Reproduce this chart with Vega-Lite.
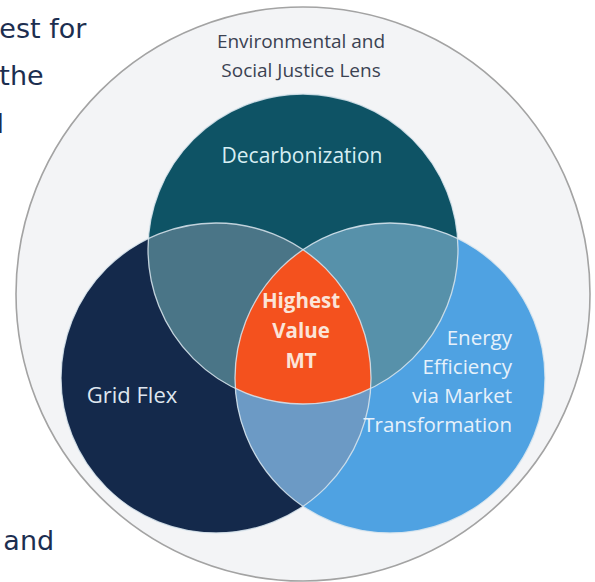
{
  "$schema": "https://vega.github.io/schema/vega-lite/v6.json",
  "width": 595,
  "height": 582,
  "autosize": {"type": "fit", "contains": "padding"},
  "padding": 0,
  "background": "white",
  "config": {"view": {"stroke": null}},
  "datasets": {
    "outer": [{"name": "Environmental and Social Justice Lens", "x": 0, "y": 0}],
    "circles": [
      {"set": "Decarbonization", "x": 0, "y": 15.68},
      {"set": "Grid Flex", "x": -30.31, "y": -29.27},
      {"set": "Energy Efficiency via Market Transformation", "x": 30.31, "y": -29.27}
    ],
    "overlaps": [
      {"set": "Decarbonization + Grid Flex", "x": 0, "y": -29.27},
      {"set": "Decarbonization + Energy Efficiency", "x": 0, "y": -29.27},
      {"set": "Grid Flex + Energy Efficiency", "x": 0, "y": -29.27},
      {"set": "Highest Value MT", "x": 0, "y": -29.27}
    ],
    "labels": [
      {"group": "lens", "text": "Environmental and\nSocial Justice Lens", "x": -0.7, "y": 85.71},
      {"group": "decarb", "text": "Decarbonization", "x": -0.35, "y": 45.64},
      {"group": "core", "text": "Highest\nValue\nMT", "x": -0.7, "y": -4.88},
      {"group": "grid", "text": "Grid Flex", "x": -59.58, "y": -37.98},
      {"group": "energy", "text": "Energy\nEfficiency\nvia Market\nTransformation", "x": 72.82, "y": -17.77},
      {"group": "doc", "text": "est for", "x": -105.8, "y": 89.2},
      {"group": "doc", "text": "the", "x": -105.8, "y": 72.82},
      {"group": "doc", "text": "l", "x": -106.8, "y": 56.1},
      {"group": "doc", "text": "and", "x": -104.4, "y": -89.2}
    ]
  },
  "encoding": {
    "x": {"field": "x", "type": "quantitative", "scale": {"domain": [-105.575, 101.742], "nice": false, "zero": false}, "axis": null},
    "y": {"field": "y", "type": "quantitative", "scale": {"domain": [-100.348, 102.439], "nice": false, "zero": false}, "axis": null}
  },
  "layer": [
    {
      "data": {"name": "outer"},
      "mark": {"type": "point", "shape": "circle", "size": 329476, "filled": true, "fill": "#f3f4f6", "stroke": "#a3a3a3", "strokeWidth": 1.6, "opacity": 1, "clip": true}
    },
    {
      "data": {"name": "circles"},
      "mark": {"type": "point", "shape": "circle", "size": 96100, "filled": true, "opacity": 1, "strokeWidth": 0},
      "encoding": {
        "color": {"field": "set", "type": "nominal", "legend": null,
          "scale": {"domain": ["Decarbonization", "Grid Flex", "Energy Efficiency via Market Transformation", "Decarbonization + Grid Flex", "Decarbonization + Energy Efficiency", "Grid Flex + Energy Efficiency", "Highest Value MT"],
            "range": ["#0e5365", "#14294b", "#4fa2e2", "#4a7587", "#5791aa", "#6c9ac5", "#f4511e"]}}
      }
    },
    {
      "data": {"name": "overlaps"},
      "mark": {"type": "point", "size": 96100, "filled": true, "opacity": 1, "strokeWidth": 0},
      "encoding": {
        "color": {"field": "set", "type": "nominal", "legend": null,
          "scale": {"domain": ["Decarbonization", "Grid Flex", "Energy Efficiency via Market Transformation", "Decarbonization + Grid Flex", "Decarbonization + Energy Efficiency", "Grid Flex + Energy Efficiency", "Highest Value MT"],
            "range": ["#0e5365", "#14294b", "#4fa2e2", "#4a7587", "#5791aa", "#6c9ac5", "#f4511e"]}},
        "shape": {"field": "set", "type": "nominal", "legend": null,
          "scale": {"domain": ["Decarbonization + Grid Flex", "Decarbonization + Energy Efficiency", "Grid Flex + Energy Efficiency", "Highest Value MT"],
            "range": [
              "M-0.9978,-0.8998A1,1,0,0,1,0,-0.8276A1,1,0,0,0,-0.4364,0.0674A1,1,0,0,1,-0.9978,-0.8998Z",
              "M0.9978,-0.8998A1,1,0,0,0,0,-0.8276A1,1,0,0,1,0.4364,0.0674A1,1,0,0,0,0.9978,-0.8998Z",
              "M-0.4364,0.0674A1,1,0,0,0,0.4364,0.0674A1,1,0,0,1,0,0.8276A1,1,0,0,1,-0.4364,0.0674Z",
              "M0,-0.8276A1,1,0,0,0,-0.4364,0.0674A1,1,0,0,0,0.4364,0.0674A1,1,0,0,0,0,-0.8276Z"
            ]}}
      }
    },
    {
      "data": {"name": "circles"},
      "mark": {"type": "point", "shape": "circle", "size": 96100, "filled": false, "stroke": "#dbe7ef", "strokeWidth": 1.3, "opacity": 0.85}
    },
    {
      "data": {"name": "labels"},
      "transform": [{"filter": "datum.group === 'lens'"}],
      "mark": {"type": "text", "align": "center", "baseline": "alphabetic", "lineBreak": "\n", "lineHeight": 29, "font": "Open Sans", "fontSize": 19, "fontWeight": 500, "color": "#3b4252"},
      "encoding": {"text": {"field": "text"}}
    },
    {
      "data": {"name": "labels"},
      "transform": [{"filter": "datum.group === 'decarb'"}],
      "mark": {"type": "text", "align": "center", "baseline": "alphabetic", "font": "Open Sans", "fontSize": 21, "fontWeight": 500, "color": "#d6eef3"},
      "encoding": {"text": {"field": "text"}}
    },
    {
      "data": {"name": "labels"},
      "transform": [{"filter": "datum.group === 'core'"}],
      "mark": {"type": "text", "align": "center", "baseline": "alphabetic", "lineBreak": "\n", "lineHeight": 30, "font": "Open Sans", "fontWeight": "bold", "fontSize": 20.5, "color": "#fbe4d8"},
      "encoding": {"text": {"field": "text"}}
    },
    {
      "data": {"name": "labels"},
      "transform": [{"filter": "datum.group === 'grid'"}],
      "mark": {"type": "text", "align": "center", "baseline": "alphabetic", "font": "Open Sans", "fontSize": 22, "fontWeight": 500, "color": "#dfe6ef"},
      "encoding": {"text": {"field": "text"}}
    },
    {
      "data": {"name": "labels"},
      "transform": [{"filter": "datum.group === 'energy'"}],
      "mark": {"type": "text", "align": "right", "baseline": "alphabetic", "lineBreak": "\n", "lineHeight": 29, "font": "Open Sans", "fontSize": 20.5, "fontWeight": 500, "color": "#e6f1fb"},
      "encoding": {"text": {"field": "text"}}
    },
    {
      "data": {"name": "labels"},
      "transform": [{"filter": "datum.group === 'doc'"}],
      "mark": {"type": "text", "align": "left", "baseline": "alphabetic", "font": "DejaVu Sans", "fontSize": 27, "color": "#1c2e50", "clip": true},
      "encoding": {"text": {"field": "text"}}
    }
  ]
}
